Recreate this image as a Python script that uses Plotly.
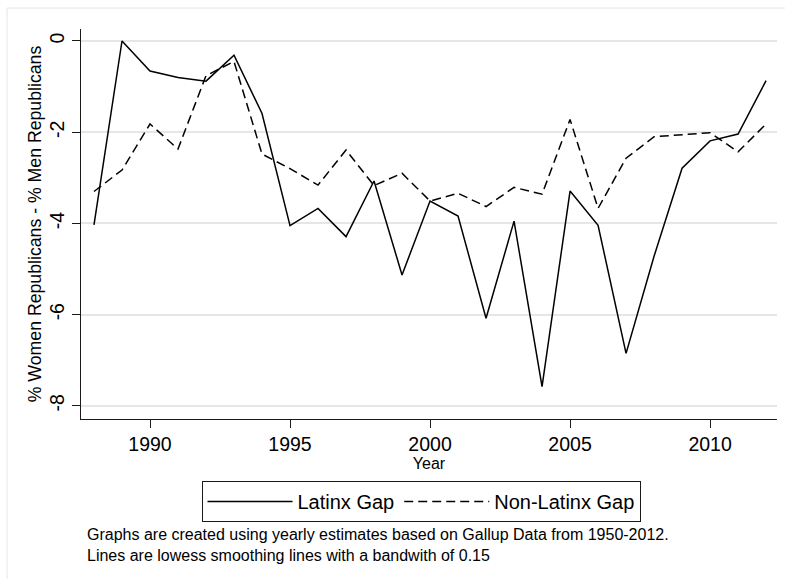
import plotly.graph_objects as go

# Yearly gender gap in Republican identification (women minus men, percentage points)
years = list(range(1988, 2013))
latinx_gap = [-4.03, 0.0, -0.66, -0.80, -0.88, -0.31, -1.59, -4.05, -3.67, -4.29,
              -3.07, -5.13, -3.51, -3.84, -6.08, -3.95, -7.58, -3.29, -4.04, -6.85,
              -4.72, -2.79, -2.19, -2.04, -0.87]
non_latinx_gap = [-3.30, -2.83, -1.82, -2.37, -0.76, -0.45, -2.48, -2.80, -3.16, -2.39,
                  -3.17, -2.90, -3.51, -3.34, -3.63, -3.21, -3.36, -1.72, -3.67, -2.57,
                  -2.10, -2.06, -2.01, -2.43, -1.82]

x_ticks = [1990, 1995, 2000, 2005, 2010]
y_ticks = [0, -2, -4, -6, -8]

note_lines = [
    "Graphs are created using yearly estimates based on Gallup Data from 1950-2012.",
    "Lines are lowess smoothing lines with a bandwith of 0.15",
]

W, H = 785, 579
ML, MR, MT, MB = 81, 8, 29, 160
PW, PH = W - ML - MR, H - MT - MB


def px_x(p):
    return (p - ML) / PW


def px_y(p):
    return (H - MB - p) / PH


FONT = "Liberation Sans, Arial, Helvetica, sans-serif"

fig = go.Figure()
fig.add_trace(go.Scatter(
    x=years, y=latinx_gap, mode="lines", name="Latinx Gap",
    line=dict(color="#000000", width=1.5),
))
fig.add_trace(go.Scatter(
    x=years, y=non_latinx_gap, mode="lines", name="Non-Latinx Gap",
    line=dict(color="#000000", width=1.5, dash="9px,5px"),
))

axis_common = dict(
    showline=True, linecolor="#1a1a1a", linewidth=1,
    ticks="outside", ticklen=8, tickwidth=1, tickcolor="#1a1a1a",
    tickfont=dict(family=FONT, size=19.5, color="#000000"),
    zeroline=False,
)

fig.update_xaxes(
    range=[1987.536, 2012.39], tickvals=x_ticks, ticktext=[str(t) for t in x_ticks],
    showgrid=False,
    title=dict(text="Year", font=dict(family=FONT, size=16, color="#000000"), standoff=2),
    **axis_common,
)
fig.update_yaxes(
    range=[-8.289, 0.263], tickvals=y_ticks, ticktext=[str(t) for t in y_ticks],
    tickangle=-90,
    showgrid=True, gridcolor="#e6e6e6", gridwidth=1.5,
    title=dict(text="% Women Republicans - % Men Republicans",
               font=dict(family=FONT, size=17.7, color="#000000"), standoff=0),
    **axis_common,
)

# Two-line note under the legend
note = dict(
    text="<br>".join(note_lines), xref="paper", yref="paper",
    x=px_x(85), y=px_y(544.5), xanchor="left", yanchor="middle", align="left",
    showarrow=False, font=dict(family=FONT, size=16, color="#000000"),
)

fig.update_layout(
    width=W, height=H,
    margin=dict(l=ML, r=MR, t=MT, b=MB, autoexpand=False),
    paper_bgcolor="#ffffff", plot_bgcolor="#ffffff",
    showlegend=True,
    legend=dict(
        orientation="h", xref="paper", yref="paper",
        x=px_x(421), xanchor="center", y=px_y(481), yanchor="top",
        bordercolor="#1a1a1a", borderwidth=1, bgcolor="#ffffff",
        font=dict(family=FONT, size=20, color="#000000"),
        itemwidth=85,
    ),
    annotations=[note],
    shapes=[dict(
        type="rect", xref="paper", yref="paper", layer="below",
        x0=px_x(7), x1=px_x(820), y0=px_y(620), y1=px_y(8),
        line=dict(color="#e6e6e6", width=1), fillcolor="rgba(0,0,0,0)",
    )],
)

fig.write_html("out.html")
